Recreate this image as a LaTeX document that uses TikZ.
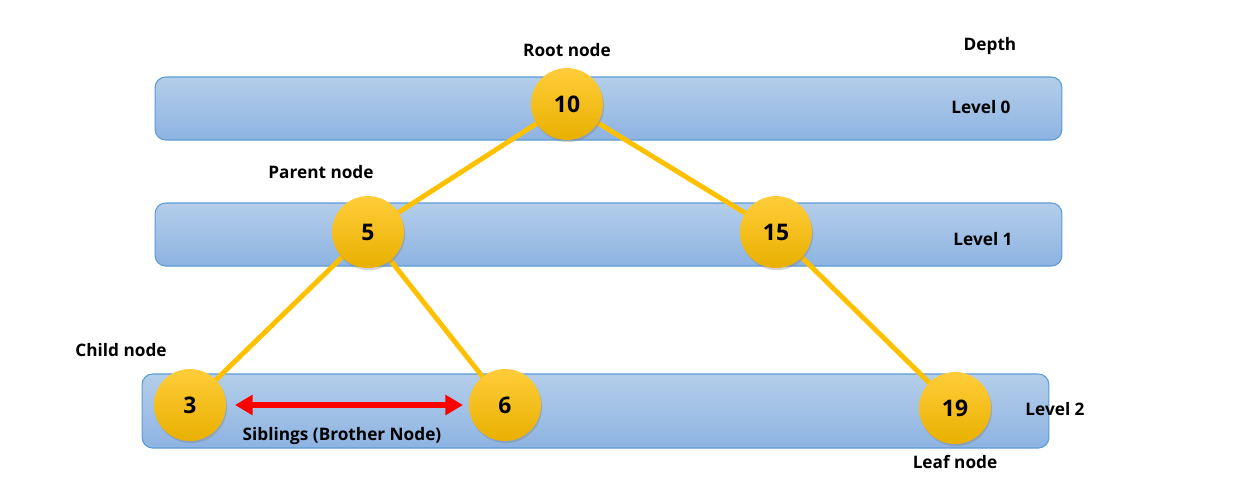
\documentclass[tikz,border=0pt]{standalone}
\usepackage{fontspec}
\setmainfont{Open Sans}
\usetikzlibrary{positioning}
\usetikzlibrary{shadows}
\usetikzlibrary{arrows.meta}
\definecolor{bandtop}{HTML}{B4CEEA}
\definecolor{bandbot}{HTML}{8DB3E2}
\definecolor{bandline}{HTML}{5B9BD5}
\definecolor{gold}{HTML}{FFC000}
\definecolor{goldtop}{HTML}{FFCD3A}
\definecolor{goldbot}{HTML}{E9B000}
\tikzset{
  Band/.style={rectangle, rounded corners=6pt, draw=bandline, line width=0.6pt,
    top color=bandtop, bottom color=bandbot, minimum width=18.14cm}, % Ebenen
  Knoten/.style={circle, minimum size=1.44cm, inner sep=0pt, top color=goldtop,
    bottom color=goldbot, drop shadow={opacity=0.35, shadow xshift=0.6pt, shadow yshift=-1.2pt},
    font=\fontsize{13}{15}\selectfont\bfseries}, % Baumknoten
  Kante/.style={gold, line width=2.8pt}, % Verbindungen
  Text/.style={font=\fontsize{9.8}{12}\selectfont\bfseries, inner sep=1pt}
}

\begin{document}
\begin{tikzpicture}[x=0.02cm, y=-0.02cm, >=latex]
\useasboundingbox (0,0) rectangle (1234,485);

%Ebenen
\node[Band, minimum height=1.26cm] (B0) at (608.5,108.5) {};
\node[Band, minimum height=1.26cm] (B1) at (608.5,234.5) {};
\node[Band, minimum height=1.48cm] (B2) at (595.5,411) {};

%Koordinaten der Knoten
\coordinate (c10) at (567,104);
\coordinate (c5)  at (368,232);
\coordinate (c15) at (776,232);
\coordinate (c3)  at (190,405);
\coordinate (c6)  at (505,405);
\coordinate (c19) at (955,408);

%Kanten
\draw[Kante] (c10) -- (c5);
\draw[Kante] (c10) -- (c15);
\draw[Kante] (c5) -- (c3);
\draw[Kante] (c5) -- (c6);
\draw[Kante] (c15) -- (c19);

%Knoten
\node[Knoten] (N10) at (c10) {10};
\node[Knoten] (N5)  at (c5)  {5};
\node[Knoten] (N15) at (c15) {15};
\node[Knoten] (N3)  at (c3)  {3};
\node[Knoten] (N6)  at (c6)  {6};
\node[Knoten] (N19) at (c19) {19};

%Geschwister-Pfeil
\draw[red, line width=3pt, {Triangle[length=10pt,width=11pt]}-{Triangle[length=10pt,width=11pt]}]
  ([xshift=0.9cm]N3.center) -- ([xshift=-0.84cm]N6.center);

%Beschriftungen
\node[Text, above=0.17cm of N10] (root) {Root node};
\node[Text] (depth) at (990,46) {Depth};
\node[Text] (lv0) at (981,107) {Level 0};
\node[Text] (parent) at (321,172) {Parent node};
\node[Text] (lv1) at (983,239) {Level 1};
\node[Text] (child) at (121,350) {Child node};
\node[Text] (lv2) at (1055,409) {Level 2};
\node[Text, below=0.17cm of N19] (leaf) {Leaf node};
\node[Text] (sib) at (342,436) {Siblings (Brother Node)};

\end{tikzpicture}
\end{document}
